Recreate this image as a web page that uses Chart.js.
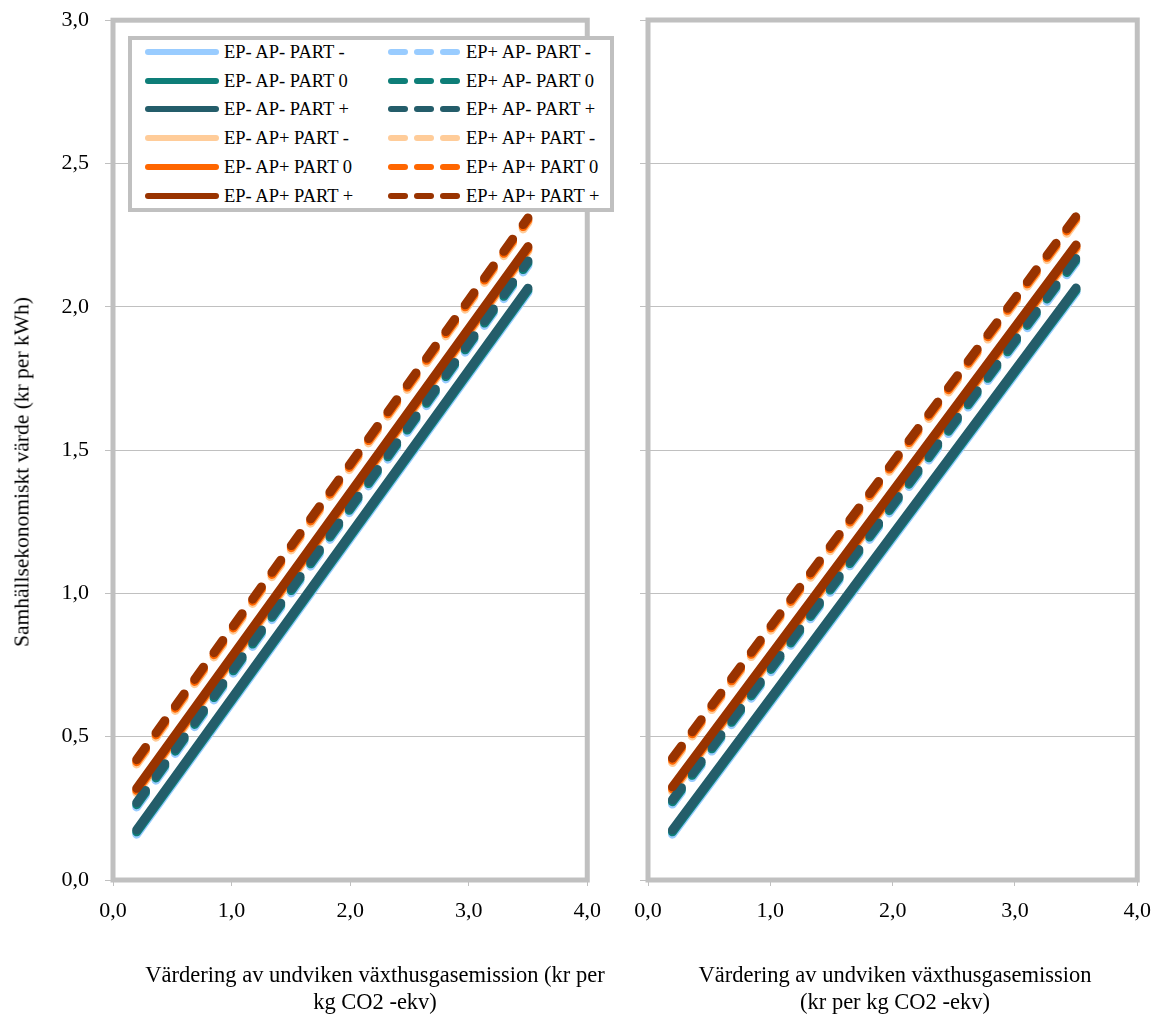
<!DOCTYPE html>
<html>
<head>
<meta charset="utf-8">
<script src="https://cdn.jsdelivr.net/npm/chart.js@4"></script>
<style>
  body { margin: 0; background: #fff; }
  #wrap { position: relative; width: 1163px; height: 1021px; overflow: hidden; font-family: "Liberation Serif", "DejaVu Serif", serif; color: #000; }
  canvas { position: absolute; }
  .title { position: absolute; font-size: 22.5px; line-height: 27px; text-align: center; white-space: nowrap; }
  #legend { position: absolute; left: 128px; top: 36px; width: 486px; height: 176px; box-sizing: border-box;
            border: 4px solid #c0c0c0; background: #fff; }
  .lg-text { position: absolute; font-size: 18.5px; line-height: 20px; white-space: nowrap; }
  .lg-seg { position: absolute; height: 6px; border-radius: 3px; }
</style>
</head>
<body>
<div id="wrap">
  <canvas id="left" width="613" height="1030" style="left:0; top:-9px"></canvas>
  <canvas id="right" width="563" height="1021" style="left:600px; top:0"></canvas>
  <div id="legend"></div>
  <div class="title" style="left:22px; top:472px; font-size:21.5px; transform: translate(-50%, -50%) rotate(-90deg);">Samhällsekonomiskt värde (kr per kWh)</div>
  <div class="title" style="left:375px; top:961px; transform: translateX(-50%);">Värdering av undviken växthusgasemission (kr per<br>kg CO2 -ekv)</div>
  <div class="title" style="left:895px; top:961px; transform: translateX(-50%);">Värdering av undviken växthusgasemission<br>(kr per kg CO2 -ekv)</div>
</div>
<script>
// values

const xPoints = [0.2, 3.5];

const seriesNames = [
  "EP- AP- PART -", "EP- AP- PART 0", "EP- AP- PART +",
  "EP- AP+ PART -", "EP- AP+ PART 0", "EP- AP+ PART +",
  "EP+ AP- PART -", "EP+ AP- PART 0", "EP+ AP- PART +",
  "EP+ AP+ PART -", "EP+ AP+ PART 0", "EP+ AP+ PART +"
];

// value at x = 0.2 and at x = 3.5
const leftAtStart  = [0.160, 0.168, 0.175, 0.305, 0.313, 0.320, 0.255, 0.263, 0.270, 0.405, 0.413, 0.420];
const leftAtEnd    = [2.050, 2.058, 2.065, 2.195, 2.203, 2.210, 2.145, 2.153, 2.160, 2.295, 2.303, 2.310];
const rightAtStart = [0.160, 0.168, 0.175, 0.310, 0.318, 0.325, 0.265, 0.273, 0.280, 0.410, 0.418, 0.425];
const rightAtEnd   = [2.050, 2.058, 2.065, 2.200, 2.208, 2.215, 2.155, 2.163, 2.170, 2.300, 2.308, 2.315];

const yTicks = [0, 0.5, 1, 1.5, 2, 2.5, 3];
const xTicks = [0, 1, 2, 3, 4];

// styles
const seriesColors = ["#99ccff", "#0e7e78", "#245d6a", "#ffcc99", "#ff6600", "#993300"];
const gridColor = "#c0c0c0";
const fontFamily = "'Liberation Serif', 'DejaVu Serif', serif";

function commaLabel(v) {
  return v.toFixed(1).replace(".", ",");
}

// frame round the plot area
const framePlugin = {
  id: "frame",
  beforeDatasetsDraw(chart) {
    const a = chart.chartArea;
    const ctx = chart.ctx;
    ctx.save();
    ctx.strokeStyle = gridColor;
    ctx.lineWidth = 5;
    ctx.strokeRect(a.left, a.top, a.right - a.left, a.bottom - a.top);
    ctx.restore();
  }
};

function makeDatasets(startVals, endVals) {
  return seriesNames.map((name, i) => ({
    label: name,
    data: [
      { x: xPoints[0], y: startVals[i] },
      { x: xPoints[1], y: endVals[i] }
    ],
    borderColor: seriesColors[i % 6],
    backgroundColor: seriesColors[i % 6],
    borderWidth: 9,
    borderCapStyle: "round",
    borderJoinStyle: "round",
    borderDash: i >= 6 ? [15, 18] : [],
    pointRadius: 0,
    // darker PART + lines sit on top
    order: 2 - (i % 3)
  }));
}

function makeChart(canvasId, startVals, endVals, showYLabels, yWidth, pad) {
  const canvas = document.getElementById(canvasId);
  const xHeight = 141;
  return new Chart(canvas, {
    type: "line",
    data: { datasets: makeDatasets(startVals, endVals) },
    options: {
      responsive: false,
      animation: false,
      devicePixelRatio: 1,
      layout: { padding: pad },
      plugins: { legend: { display: false }, tooltip: { enabled: false } },
      scales: {
        x: {
          type: "linear",
          min: 0,
          max: 4,
          afterBuildTicks: (scale) => { scale.ticks = xTicks.map((v) => ({ value: v })); },
          afterFit: (scale) => { scale.height = xHeight; },
          ticks: {
            callback: commaLabel,
            font: { family: fontFamily, size: 22 },
            color: "#000",
            padding: 12,
            maxRotation: 0
          },
          grid: { drawOnChartArea: false, color: gridColor, tickLength: 6, tickWidth: 1 },
          border: { display: false }
        },
        y: {
          min: 0,
          max: 3,
          afterBuildTicks: (scale) => { scale.ticks = yTicks.map((v) => ({ value: v })); },
          afterFit: (scale) => { scale.width = yWidth; },
          ticks: {
            display: showYLabels,
            callback: commaLabel,
            font: { family: fontFamily, size: 22 },
            color: "#000",
            padding: 16
          },
          grid: { color: gridColor, lineWidth: 1, tickLength: 8 },
          border: { display: false }
        }
      }
    },
    plugins: [framePlugin]
  });
}

function buildLegend() {
  const legend = document.getElementById("legend");
  const rowMids = [15.7, 45, 73.3, 102.3, 130.7, 160]; // row centres inside box
  seriesNames.forEach((name, i) => {
    const col = i < 6 ? 0 : 1;
    const row = i % 6;
    const cy = rowMids[row] - 4;
    const sampleLeft = col === 0 ? 13 : 256;
    const textLeft = col === 0 ? 92 : 334;
    const color = seriesColors[i % 6];
    const segs = col === 0 ? [[0, 74]] : [[0, 20], [26, 20], [52, 20]];
    segs.forEach(([off, w]) => {
      const s = document.createElement("span");
      s.className = "lg-seg";
      s.style.left = (sampleLeft + off) + "px";
      s.style.top = (cy - 3) + "px";
      s.style.width = w + "px";
      s.style.background = color;
      legend.appendChild(s);
    });
    const t = document.createElement("span");
    t.className = "lg-text";
    t.style.left = textLeft + "px";
    t.style.top = (cy - 10) + "px";
    t.textContent = name;
    legend.appendChild(t);
  });
}

window.addEventListener("DOMContentLoaded", () => {
  makeChart("left", leftAtStart, leftAtEnd, true, 113, { top: 13, right: 0, left: 0, bottom: 0 });
  makeChart("right", rightAtStart, rightAtEnd, false, 48, { top: 20, right: 25, left: 0, bottom: 0 });
  buildLegend();
});
</script>
</body>
</html>
